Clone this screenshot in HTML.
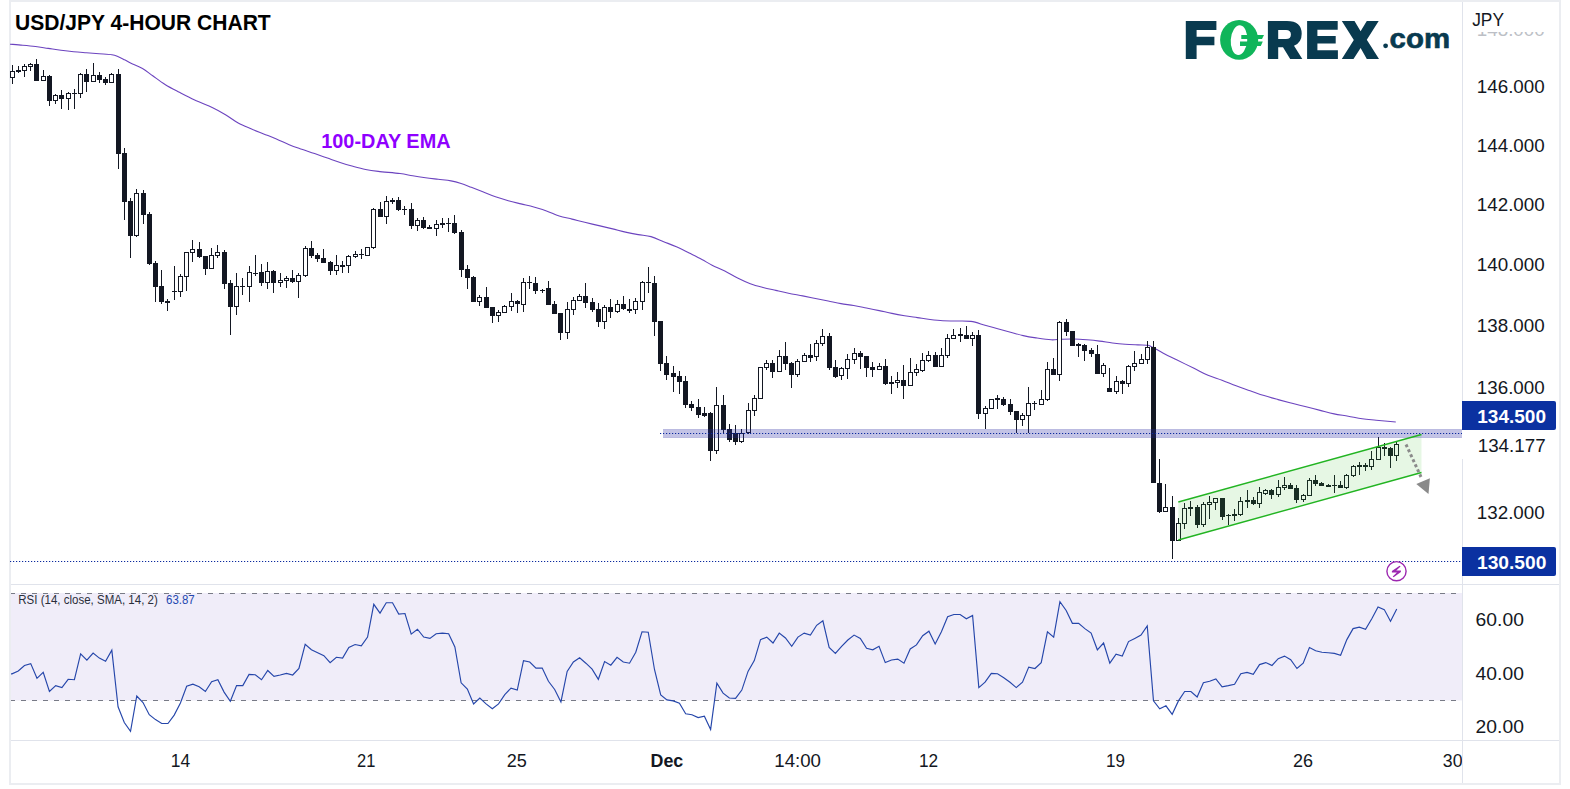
<!DOCTYPE html><html><head><meta charset="utf-8"><style>
html,body{margin:0;padding:0;background:#fff;width:1570px;height:789px;overflow:hidden}
svg{position:absolute;left:0;top:0;display:block}
text{font-family:"Liberation Sans",sans-serif}
</style></head><body>
<svg width="1570" height="789" viewBox="0 0 1570 789">
<rect x="0" y="0" width="1570" height="789" fill="#fff"/>
<defs><clipPath id="cm"><rect x="10" y="2" width="1452" height="582"/></clipPath>
<clipPath id="cr"><rect x="11" y="585" width="1451" height="155"/></clipPath>
<clipPath id="ct"><rect x="11" y="741" width="1451" height="42"/></clipPath>
<clipPath id="cg"><rect x="1463" y="32" width="96" height="20"/></clipPath></defs>
<rect x="10" y="1" width="1550" height="783" fill="none" stroke="#ebedf1" stroke-width="2"/>
<g clip-path="url(#cr)">
<rect x="11" y="593" width="1451" height="107.5" fill="#f0edf9"/>
<line x1="10" y1="593.5" x2="1462" y2="593.5" stroke="#787b86" stroke-width="1" stroke-dasharray="5 6"/>
<line x1="10" y1="700.5" x2="1462" y2="700.5" stroke="#787b86" stroke-width="1" stroke-dasharray="5 6"/>
<polyline points="5.78,673.80 12.02,673.80 18.26,671.00 24.49,665.50 30.73,663.60 36.97,678.30 43.21,672.40 49.44,691.50 55.68,685.60 61.92,687.60 68.16,679.30 74.39,679.70 80.63,653.80 86.87,660.20 93.11,653.00 99.34,658.10 105.58,661.20 111.82,650.20 118.06,706.80 124.29,722.50 130.53,731.40 136.77,696.00 143.01,702.50 149.25,714.70 155.48,719.60 161.72,723.50 167.96,723.50 174.19,715.10 180.43,702.90 186.67,686.20 192.91,684.20 199.15,686.80 205.38,691.50 211.62,681.70 217.86,679.70 224.09,692.10 230.33,701.30 236.57,685.60 242.81,685.60 249.05,674.40 255.28,674.80 261.52,679.70 267.76,670.50 273.99,676.40 280.23,675.00 286.47,673.40 292.71,675.00 298.94,668.50 305.18,644.30 311.42,649.80 317.66,652.80 323.89,655.70 330.13,662.60 336.37,657.30 342.61,658.10 348.84,647.50 355.08,644.50 361.32,645.90 367.56,637.10 373.79,604.30 380.03,613.10 386.27,602.70 392.51,602.70 398.74,614.10 404.98,613.50 411.22,634.10 417.46,629.20 423.69,637.10 429.93,638.40 436.17,633.70 442.41,633.10 448.64,633.70 454.88,646.90 461.12,682.80 467.36,689.10 473.59,703.90 479.83,698.00 486.07,703.90 492.31,708.80 498.54,703.90 504.78,694.60 511.02,688.10 517.26,690.10 523.50,660.60 529.73,662.00 535.97,668.10 542.21,668.10 548.44,681.30 554.68,689.50 560.92,701.90 567.16,671.40 573.39,662.00 579.63,657.70 585.87,663.20 592.11,669.10 598.34,679.30 604.58,661.60 610.82,665.20 617.06,657.30 623.29,662.00 629.53,663.20 635.77,652.20 642.01,631.80 648.25,632.20 654.48,669.50 660.72,695.00 666.96,699.90 673.19,700.90 679.43,703.30 685.67,713.70 691.91,714.70 698.14,717.60 704.38,716.20 710.62,729.40 716.86,683.20 723.09,693.10 729.33,698.00 735.57,698.40 741.81,690.10 748.04,671.40 754.28,660.60 760.52,639.60 766.76,637.10 773.00,643.00 779.23,633.10 785.47,638.00 791.71,646.30 797.94,637.10 804.18,633.10 810.42,635.10 816.66,625.30 822.89,620.80 829.13,647.50 835.37,653.40 841.61,646.30 847.84,640.00 854.08,635.10 860.32,638.40 866.56,648.30 872.79,649.80 879.03,646.30 885.27,662.60 891.51,660.00 897.75,659.10 903.98,663.20 910.22,648.90 916.46,644.90 922.69,635.70 928.93,631.20 935.17,643.90 941.41,631.80 947.64,616.80 953.88,614.50 960.12,614.50 966.36,618.80 972.59,615.50 978.83,687.60 985.07,682.20 991.31,673.40 997.54,673.80 1003.78,677.70 1010.02,682.20 1016.26,687.60 1022.50,682.20 1028.73,667.10 1034.97,668.50 1041.21,662.60 1047.44,631.80 1053.68,637.10 1059.92,601.70 1066.16,610.50 1072.39,623.30 1078.63,623.30 1084.87,628.60 1091.11,633.10 1097.35,649.80 1103.58,643.00 1109.82,663.20 1116.06,654.20 1122.29,656.10 1128.53,641.60 1134.77,638.40 1141.01,635.10 1147.24,625.90 1153.48,700.90 1159.72,708.80 1165.96,705.80 1172.19,714.30 1178.43,700.90 1184.67,691.50 1190.91,691.50 1197.14,697.00 1203.38,682.80 1209.62,681.30 1215.86,678.90 1222.10,686.80 1228.33,685.60 1234.57,684.20 1240.81,673.80 1247.04,672.40 1253.28,674.40 1259.52,664.60 1265.76,662.60 1271.99,665.50 1278.23,658.70 1284.47,656.10 1290.71,659.70 1296.94,668.50 1303.18,663.20 1309.42,647.50 1315.66,650.80 1321.89,652.20 1328.13,652.80 1334.37,653.40 1340.61,655.30 1346.85,639.60 1353.08,628.60 1359.32,627.20 1365.56,629.20 1371.79,618.80 1378.03,607.00 1384.27,609.60 1390.51,621.30 1396.74,609.00" fill="none" stroke="#2546aa" stroke-width="1.15" stroke-linejoin="miter"/>
</g>
<g clip-path="url(#cm)">
<path d="M10,44.2 C12.12,44.37 18.45,44.82 22.7,45.2 C26.95,45.58 31.25,45.97 35.5,46.5 C39.75,47.03 43.95,47.77 48.2,48.4 C52.45,49.03 56.75,49.73 61,50.3 C65.25,50.87 69.47,51.38 73.7,51.8 C77.93,52.22 82.15,52.48 86.4,52.8 C90.65,53.12 94.95,53.38 99.2,53.7 C103.45,54.02 108.72,54.20 111.9,54.7 C115.08,55.20 116.18,55.85 118.3,56.7 C120.42,57.55 122.48,58.70 124.6,59.8 C126.72,60.90 128.02,61.87 131,63.3 C133.98,64.73 138.88,66.32 142.5,68.4 C146.12,70.48 148.88,73.08 152.7,75.8 C156.52,78.52 160.95,81.95 165.4,84.7 C169.85,87.45 174.52,89.75 179.4,92.3 C184.28,94.85 189.15,97.43 194.7,100 C200.25,102.57 207.57,105.25 212.7,107.7 C217.83,110.15 221.25,112.15 225.5,114.7 C229.75,117.25 233.95,120.65 238.2,123 C242.45,125.35 246.75,126.98 251,128.8 C255.25,130.62 259.47,132.20 263.7,133.9 C267.93,135.60 272.15,137.20 276.4,139 C280.65,140.80 285.37,143.12 289.2,144.7 C293.03,146.28 295.17,147.02 299.4,148.5 C303.63,149.98 309.93,152.00 314.6,153.6 C319.27,155.20 323.15,156.62 327.4,158.1 C331.65,159.58 335.85,161.13 340.1,162.5 C344.35,163.87 348.65,165.13 352.9,166.3 C357.15,167.47 361.37,168.65 365.6,169.5 C369.83,170.35 372.57,170.73 378.3,171.4 C384.03,172.07 394.27,172.77 400,173.5 C405.73,174.23 408.45,175.10 412.7,175.8 C416.95,176.50 421.25,177.12 425.5,177.7 C429.75,178.28 433.95,178.77 438.2,179.3 C442.45,179.83 447.18,180.20 451,180.9 C454.82,181.60 457.72,182.43 461.1,183.5 C464.48,184.57 467.68,185.92 471.3,187.3 C474.92,188.68 478.77,190.22 482.8,191.8 C486.83,193.38 491.25,195.32 495.5,196.8 C499.75,198.28 504.05,199.52 508.3,200.7 C512.55,201.88 516.75,202.85 521,203.9 C525.25,204.95 529.55,205.83 533.8,207 C538.05,208.17 542.27,209.40 546.5,210.9 C550.73,212.40 554.95,214.63 559.2,216 C563.45,217.37 567.75,218.05 572,219.1 C576.25,220.15 580.03,221.17 584.7,222.3 C589.37,223.43 595.33,224.80 600,225.9 C604.67,227.00 608.45,227.87 612.7,228.9 C616.95,229.93 621.25,231.15 625.5,232.1 C629.75,233.05 633.95,233.85 638.2,234.6 C642.45,235.35 646.75,235.42 651,236.6 C655.25,237.78 659.47,240.00 663.7,241.7 C667.93,243.40 672.15,244.90 676.4,246.8 C680.65,248.70 684.95,250.98 689.2,253.1 C693.45,255.22 698.08,257.48 701.9,259.5 C705.72,261.52 708.28,263.28 712.1,265.2 C715.92,267.12 720.55,268.87 724.8,271 C729.05,273.13 733.35,275.88 737.6,278 C741.85,280.12 746.05,282.12 750.3,283.7 C754.55,285.28 758.85,286.38 763.1,287.5 C767.35,288.62 771.57,289.45 775.8,290.4 C780.03,291.35 784.02,292.28 788.5,293.2 C792.98,294.12 798.20,295.02 802.7,295.9 C807.20,296.78 811.25,297.65 815.5,298.5 C819.75,299.35 823.95,300.15 828.2,301 C832.45,301.85 836.75,302.85 841,303.6 C845.25,304.35 849.47,304.77 853.7,305.5 C857.93,306.23 862.15,307.15 866.4,308 C870.65,308.85 874.95,309.70 879.2,310.6 C883.45,311.50 887.67,312.55 891.9,313.4 C896.13,314.25 900.35,315.00 904.6,315.7 C908.85,316.40 913.15,316.97 917.4,317.6 C921.65,318.23 925.85,318.97 930.1,319.5 C934.35,320.03 938.65,320.55 942.9,320.8 C947.15,321.05 950.93,320.90 955.6,321 C960.27,321.10 966.00,320.70 970.9,321.4 C975.80,322.10 980.53,323.97 985,325.2 C989.47,326.43 993.45,327.63 997.7,328.8 C1001.95,329.97 1006.25,331.07 1010.5,332.2 C1014.75,333.33 1018.95,334.65 1023.2,335.6 C1027.45,336.55 1031.33,337.20 1036,337.9 C1040.67,338.60 1046.97,339.58 1051.2,339.8 C1055.43,340.02 1057.57,339.33 1061.4,339.2 C1065.23,339.07 1069.95,338.90 1074.2,339 C1078.45,339.10 1082.67,339.45 1086.9,339.8 C1091.13,340.15 1095.35,340.57 1099.6,341.1 C1103.85,341.63 1108.15,342.47 1112.4,343 C1116.65,343.53 1120.85,343.98 1125.1,344.3 C1129.35,344.62 1134.28,344.75 1137.9,344.9 C1141.52,345.05 1144.68,344.98 1146.8,345.2 C1148.92,345.42 1147.85,344.87 1150.6,346.2 C1153.35,347.53 1159.05,350.97 1163.3,353.2 C1167.55,355.43 1170.98,357.08 1176.1,359.6 C1181.22,362.12 1188.68,365.68 1194,368.3 C1199.32,370.92 1203.33,373.32 1208,375.3 C1212.67,377.28 1217.32,378.45 1222,380.2 C1226.68,381.95 1231.42,384.05 1236.1,385.8 C1240.78,387.55 1245.43,389.07 1250.1,390.7 C1254.77,392.33 1259.43,394.12 1264.1,395.6 C1268.77,397.08 1273.43,398.32 1278.1,399.6 C1282.77,400.88 1287.43,402.10 1292.1,403.3 C1296.77,404.50 1301.43,405.62 1306.1,406.8 C1310.77,407.98 1315.43,409.22 1320.1,410.4 C1324.77,411.58 1329.42,412.93 1334.1,413.9 C1338.78,414.87 1343.52,415.38 1348.2,416.2 C1352.88,417.02 1357.53,418.13 1362.2,418.8 C1366.87,419.47 1370.60,419.67 1376.2,420.2 C1381.80,420.73 1392.53,421.70 1395.8,422" fill="none" stroke="#6c44bf" stroke-width="1.1"/>
<rect x="12" y="65" width="1" height="19" fill="#131722"/><rect x="10" y="71" width="5" height="7" fill="#131722"/><rect x="11" y="72" width="3" height="5" fill="#fff"/><rect x="18" y="66" width="1" height="7" fill="#131722"/><rect x="16" y="70" width="5" height="2" fill="#131722"/><rect x="24" y="64" width="1" height="13" fill="#131722"/><rect x="22" y="66" width="5" height="5" fill="#131722"/><rect x="23" y="67" width="3" height="3" fill="#fff"/><rect x="30" y="63" width="1" height="8" fill="#131722"/><rect x="28" y="64" width="5" height="3" fill="#131722"/><rect x="29" y="65" width="3" height="1" fill="#fff"/><rect x="36" y="59" width="1" height="22" fill="#131722"/><rect x="34" y="64" width="5" height="17" fill="#131722"/><rect x="43" y="70" width="1" height="11" fill="#131722"/><rect x="41" y="76" width="5" height="5" fill="#131722"/><rect x="42" y="77" width="3" height="3" fill="#fff"/><rect x="49" y="75" width="1" height="31" fill="#131722"/><rect x="47" y="76" width="5" height="25" fill="#131722"/><rect x="55" y="94" width="1" height="10" fill="#131722"/><rect x="53" y="95" width="5" height="6" fill="#131722"/><rect x="54" y="96" width="3" height="4" fill="#fff"/><rect x="61" y="90" width="1" height="19" fill="#131722"/><rect x="59" y="95" width="5" height="4" fill="#131722"/><rect x="68" y="92" width="1" height="18" fill="#131722"/><rect x="66" y="93" width="5" height="6" fill="#131722"/><rect x="67" y="94" width="3" height="4" fill="#fff"/><rect x="74" y="89" width="1" height="20" fill="#131722"/><rect x="72" y="93" width="5" height="1" fill="#131722"/><rect x="80" y="73" width="1" height="25" fill="#131722"/><rect x="78" y="74" width="5" height="20" fill="#131722"/><rect x="79" y="75" width="3" height="18" fill="#fff"/><rect x="86" y="69" width="1" height="23" fill="#131722"/><rect x="84" y="74" width="5" height="8" fill="#131722"/><rect x="93" y="63" width="1" height="19" fill="#131722"/><rect x="91" y="75" width="5" height="7" fill="#131722"/><rect x="92" y="76" width="3" height="5" fill="#fff"/><rect x="99" y="72" width="1" height="11" fill="#131722"/><rect x="97" y="75" width="5" height="5" fill="#131722"/><rect x="105" y="77" width="1" height="8" fill="#131722"/><rect x="103" y="79" width="5" height="4" fill="#131722"/><rect x="111" y="73" width="1" height="10" fill="#131722"/><rect x="109" y="74" width="5" height="9" fill="#131722"/><rect x="110" y="75" width="3" height="7" fill="#fff"/><rect x="118" y="69" width="1" height="100" fill="#131722"/><rect x="116" y="74" width="5" height="80" fill="#131722"/><rect x="124" y="148" width="1" height="72" fill="#131722"/><rect x="122" y="153" width="5" height="49" fill="#131722"/><rect x="130" y="198" width="1" height="60" fill="#131722"/><rect x="128" y="201" width="5" height="35" fill="#131722"/><rect x="136" y="189" width="1" height="48" fill="#131722"/><rect x="134" y="193" width="5" height="43" fill="#131722"/><rect x="135" y="194" width="3" height="41" fill="#fff"/><rect x="143" y="190" width="1" height="34" fill="#131722"/><rect x="141" y="193" width="5" height="22" fill="#131722"/><rect x="149" y="212" width="1" height="53" fill="#131722"/><rect x="147" y="214" width="5" height="50" fill="#131722"/><rect x="155" y="261" width="1" height="41" fill="#131722"/><rect x="153" y="263" width="5" height="24" fill="#131722"/><rect x="161" y="270" width="1" height="34" fill="#131722"/><rect x="159" y="286" width="5" height="16" fill="#131722"/><rect x="167" y="299" width="1" height="12" fill="#131722"/><rect x="165" y="301" width="5" height="2" fill="#131722"/><rect x="174" y="266" width="1" height="34" fill="#131722"/><rect x="172" y="291" width="5" height="1" fill="#131722"/><rect x="180" y="274" width="1" height="23" fill="#131722"/><rect x="178" y="276" width="5" height="16" fill="#131722"/><rect x="179" y="277" width="3" height="14" fill="#fff"/><rect x="186" y="252" width="1" height="39" fill="#131722"/><rect x="184" y="252" width="5" height="25" fill="#131722"/><rect x="185" y="253" width="3" height="23" fill="#fff"/><rect x="192" y="240" width="1" height="22" fill="#131722"/><rect x="190" y="249" width="5" height="4" fill="#131722"/><rect x="191" y="250" width="3" height="2" fill="#fff"/><rect x="199" y="242" width="1" height="16" fill="#131722"/><rect x="197" y="249" width="5" height="8" fill="#131722"/><rect x="205" y="256" width="1" height="19" fill="#131722"/><rect x="203" y="256" width="5" height="13" fill="#131722"/><rect x="211" y="248" width="1" height="21" fill="#131722"/><rect x="209" y="255" width="5" height="14" fill="#131722"/><rect x="210" y="256" width="3" height="12" fill="#fff"/><rect x="217" y="245" width="1" height="13" fill="#131722"/><rect x="215" y="252" width="5" height="4" fill="#131722"/><rect x="216" y="253" width="3" height="2" fill="#fff"/><rect x="224" y="250" width="1" height="39" fill="#131722"/><rect x="222" y="252" width="5" height="32" fill="#131722"/><rect x="230" y="280" width="1" height="55" fill="#131722"/><rect x="228" y="283" width="5" height="24" fill="#131722"/><rect x="236" y="273" width="1" height="42" fill="#131722"/><rect x="234" y="286" width="5" height="21" fill="#131722"/><rect x="235" y="287" width="3" height="19" fill="#fff"/><rect x="242" y="278" width="1" height="17" fill="#131722"/><rect x="240" y="286" width="5" height="1" fill="#131722"/><rect x="249" y="266" width="1" height="36" fill="#131722"/><rect x="247" y="272" width="5" height="15" fill="#131722"/><rect x="248" y="273" width="3" height="13" fill="#fff"/><rect x="255" y="255" width="1" height="21" fill="#131722"/><rect x="253" y="273" width="5" height="1" fill="#131722"/><rect x="261" y="264" width="1" height="22" fill="#131722"/><rect x="259" y="272" width="5" height="11" fill="#131722"/><rect x="267" y="262" width="1" height="27" fill="#131722"/><rect x="265" y="271" width="5" height="12" fill="#131722"/><rect x="266" y="272" width="3" height="10" fill="#fff"/><rect x="273" y="270" width="1" height="23" fill="#131722"/><rect x="271" y="271" width="5" height="12" fill="#131722"/><rect x="280" y="273" width="1" height="14" fill="#131722"/><rect x="278" y="280" width="5" height="3" fill="#131722"/><rect x="279" y="281" width="3" height="1" fill="#fff"/><rect x="286" y="276" width="1" height="12" fill="#131722"/><rect x="284" y="278" width="5" height="3" fill="#131722"/><rect x="285" y="279" width="3" height="1" fill="#fff"/><rect x="292" y="270" width="1" height="13" fill="#131722"/><rect x="290" y="278" width="5" height="4" fill="#131722"/><rect x="298" y="273" width="1" height="25" fill="#131722"/><rect x="296" y="275" width="5" height="7" fill="#131722"/><rect x="297" y="276" width="3" height="5" fill="#fff"/><rect x="305" y="246" width="1" height="31" fill="#131722"/><rect x="303" y="248" width="5" height="28" fill="#131722"/><rect x="304" y="249" width="3" height="26" fill="#fff"/><rect x="311" y="241" width="1" height="17" fill="#131722"/><rect x="309" y="248" width="5" height="8" fill="#131722"/><rect x="317" y="253" width="1" height="9" fill="#131722"/><rect x="315" y="255" width="5" height="4" fill="#131722"/><rect x="323" y="249" width="1" height="14" fill="#131722"/><rect x="321" y="258" width="5" height="5" fill="#131722"/><rect x="330" y="261" width="1" height="14" fill="#131722"/><rect x="328" y="262" width="5" height="9" fill="#131722"/><rect x="336" y="255" width="1" height="20" fill="#131722"/><rect x="334" y="265" width="5" height="6" fill="#131722"/><rect x="335" y="266" width="3" height="4" fill="#fff"/><rect x="342" y="261" width="1" height="12" fill="#131722"/><rect x="340" y="265" width="5" height="2" fill="#131722"/><rect x="348" y="255" width="1" height="18" fill="#131722"/><rect x="346" y="256" width="5" height="10" fill="#131722"/><rect x="347" y="257" width="3" height="8" fill="#fff"/><rect x="355" y="251" width="1" height="7" fill="#131722"/><rect x="353" y="254" width="5" height="3" fill="#131722"/><rect x="354" y="255" width="3" height="1" fill="#fff"/><rect x="361" y="249" width="1" height="10" fill="#131722"/><rect x="359" y="254" width="5" height="1" fill="#131722"/><rect x="367" y="247" width="1" height="9" fill="#131722"/><rect x="365" y="247" width="5" height="9" fill="#131722"/><rect x="366" y="248" width="3" height="7" fill="#fff"/><rect x="373" y="208" width="1" height="41" fill="#131722"/><rect x="371" y="209" width="5" height="39" fill="#131722"/><rect x="372" y="210" width="3" height="37" fill="#fff"/><rect x="380" y="202" width="1" height="15" fill="#131722"/><rect x="378" y="209" width="5" height="8" fill="#131722"/><rect x="386" y="196" width="1" height="28" fill="#131722"/><rect x="384" y="201" width="5" height="16" fill="#131722"/><rect x="385" y="202" width="3" height="14" fill="#fff"/><rect x="392" y="198" width="1" height="6" fill="#131722"/><rect x="390" y="200" width="5" height="2" fill="#131722"/><rect x="398" y="197" width="1" height="14" fill="#131722"/><rect x="396" y="200" width="5" height="10" fill="#131722"/><rect x="404" y="206" width="1" height="9" fill="#131722"/><rect x="402" y="209" width="5" height="1" fill="#131722"/><rect x="411" y="203" width="1" height="26" fill="#131722"/><rect x="409" y="209" width="5" height="17" fill="#131722"/><rect x="417" y="218" width="1" height="13" fill="#131722"/><rect x="415" y="220" width="5" height="6" fill="#131722"/><rect x="416" y="221" width="3" height="4" fill="#fff"/><rect x="423" y="217" width="1" height="12" fill="#131722"/><rect x="421" y="220" width="5" height="8" fill="#131722"/><rect x="429" y="225" width="1" height="4" fill="#131722"/><rect x="427" y="227" width="5" height="2" fill="#131722"/><rect x="436" y="220" width="1" height="16" fill="#131722"/><rect x="434" y="224" width="5" height="5" fill="#131722"/><rect x="435" y="225" width="3" height="3" fill="#fff"/><rect x="442" y="218" width="1" height="10" fill="#131722"/><rect x="440" y="223" width="5" height="2" fill="#131722"/><rect x="448" y="218" width="1" height="14" fill="#131722"/><rect x="446" y="223" width="5" height="1" fill="#131722"/><rect x="454" y="215" width="1" height="19" fill="#131722"/><rect x="452" y="223" width="5" height="10" fill="#131722"/><rect x="461" y="230" width="1" height="47" fill="#131722"/><rect x="459" y="232" width="5" height="38" fill="#131722"/><rect x="467" y="265" width="1" height="24" fill="#131722"/><rect x="465" y="269" width="5" height="9" fill="#131722"/><rect x="473" y="276" width="1" height="26" fill="#131722"/><rect x="471" y="277" width="5" height="25" fill="#131722"/><rect x="479" y="295" width="1" height="11" fill="#131722"/><rect x="477" y="297" width="5" height="5" fill="#131722"/><rect x="478" y="298" width="3" height="3" fill="#fff"/><rect x="486" y="287" width="1" height="21" fill="#131722"/><rect x="484" y="297" width="5" height="11" fill="#131722"/><rect x="492" y="307" width="1" height="16" fill="#131722"/><rect x="490" y="307" width="5" height="9" fill="#131722"/><rect x="498" y="310" width="1" height="12" fill="#131722"/><rect x="496" y="312" width="5" height="4" fill="#131722"/><rect x="497" y="313" width="3" height="2" fill="#fff"/><rect x="504" y="305" width="1" height="8" fill="#131722"/><rect x="502" y="306" width="5" height="7" fill="#131722"/><rect x="503" y="307" width="3" height="5" fill="#fff"/><rect x="511" y="293" width="1" height="18" fill="#131722"/><rect x="509" y="301" width="5" height="6" fill="#131722"/><rect x="510" y="302" width="3" height="4" fill="#fff"/><rect x="517" y="300" width="1" height="13" fill="#131722"/><rect x="515" y="301" width="5" height="3" fill="#131722"/><rect x="523" y="278" width="1" height="34" fill="#131722"/><rect x="521" y="282" width="5" height="23" fill="#131722"/><rect x="522" y="283" width="3" height="21" fill="#fff"/><rect x="529" y="276" width="1" height="13" fill="#131722"/><rect x="527" y="282" width="5" height="1" fill="#131722"/><rect x="535" y="277" width="1" height="17" fill="#131722"/><rect x="533" y="283" width="5" height="8" fill="#131722"/><rect x="542" y="289" width="1" height="4" fill="#131722"/><rect x="540" y="290" width="5" height="1" fill="#131722"/><rect x="548" y="281" width="1" height="24" fill="#131722"/><rect x="546" y="288" width="5" height="17" fill="#131722"/><rect x="554" y="301" width="1" height="13" fill="#131722"/><rect x="552" y="304" width="5" height="10" fill="#131722"/><rect x="560" y="313" width="1" height="27" fill="#131722"/><rect x="558" y="313" width="5" height="20" fill="#131722"/><rect x="567" y="302" width="1" height="37" fill="#131722"/><rect x="565" y="309" width="5" height="24" fill="#131722"/><rect x="566" y="310" width="3" height="22" fill="#fff"/><rect x="573" y="297" width="1" height="18" fill="#131722"/><rect x="571" y="300" width="5" height="10" fill="#131722"/><rect x="572" y="301" width="3" height="8" fill="#fff"/><rect x="579" y="294" width="1" height="7" fill="#131722"/><rect x="577" y="296" width="5" height="5" fill="#131722"/><rect x="578" y="297" width="3" height="3" fill="#fff"/><rect x="585" y="283" width="1" height="25" fill="#131722"/><rect x="583" y="296" width="5" height="7" fill="#131722"/><rect x="592" y="298" width="1" height="14" fill="#131722"/><rect x="590" y="302" width="5" height="8" fill="#131722"/><rect x="598" y="303" width="1" height="24" fill="#131722"/><rect x="596" y="309" width="5" height="13" fill="#131722"/><rect x="604" y="305" width="1" height="24" fill="#131722"/><rect x="602" y="307" width="5" height="15" fill="#131722"/><rect x="603" y="308" width="3" height="13" fill="#fff"/><rect x="610" y="299" width="1" height="19" fill="#131722"/><rect x="608" y="307" width="5" height="5" fill="#131722"/><rect x="617" y="300" width="1" height="13" fill="#131722"/><rect x="615" y="304" width="5" height="8" fill="#131722"/><rect x="616" y="305" width="3" height="6" fill="#fff"/><rect x="623" y="296" width="1" height="14" fill="#131722"/><rect x="621" y="304" width="5" height="5" fill="#131722"/><rect x="629" y="299" width="1" height="14" fill="#131722"/><rect x="627" y="309" width="5" height="2" fill="#131722"/><rect x="635" y="298" width="1" height="16" fill="#131722"/><rect x="633" y="301" width="5" height="9" fill="#131722"/><rect x="634" y="302" width="3" height="7" fill="#fff"/><rect x="642" y="281" width="1" height="29" fill="#131722"/><rect x="640" y="282" width="5" height="20" fill="#131722"/><rect x="641" y="283" width="3" height="18" fill="#fff"/><rect x="648" y="267" width="1" height="26" fill="#131722"/><rect x="646" y="282" width="5" height="1" fill="#131722"/><rect x="654" y="276" width="1" height="60" fill="#131722"/><rect x="652" y="283" width="5" height="39" fill="#131722"/><rect x="660" y="321" width="1" height="50" fill="#131722"/><rect x="658" y="321" width="5" height="43" fill="#131722"/><rect x="666" y="356" width="1" height="24" fill="#131722"/><rect x="664" y="363" width="5" height="12" fill="#131722"/><rect x="673" y="366" width="1" height="26" fill="#131722"/><rect x="671" y="373" width="5" height="4" fill="#131722"/><rect x="679" y="371" width="1" height="23" fill="#131722"/><rect x="677" y="376" width="5" height="6" fill="#131722"/><rect x="685" y="376" width="1" height="32" fill="#131722"/><rect x="683" y="381" width="5" height="24" fill="#131722"/><rect x="691" y="401" width="1" height="10" fill="#131722"/><rect x="689" y="404" width="5" height="4" fill="#131722"/><rect x="698" y="399" width="1" height="19" fill="#131722"/><rect x="696" y="407" width="5" height="8" fill="#131722"/><rect x="704" y="407" width="1" height="10" fill="#131722"/><rect x="702" y="413" width="5" height="3" fill="#131722"/><rect x="710" y="412" width="1" height="49" fill="#131722"/><rect x="708" y="413" width="5" height="38" fill="#131722"/><rect x="716" y="387" width="1" height="67" fill="#131722"/><rect x="714" y="405" width="5" height="46" fill="#131722"/><rect x="715" y="406" width="3" height="44" fill="#fff"/><rect x="723" y="395" width="1" height="39" fill="#131722"/><rect x="721" y="405" width="5" height="25" fill="#131722"/><rect x="729" y="424" width="1" height="18" fill="#131722"/><rect x="727" y="429" width="5" height="11" fill="#131722"/><rect x="735" y="425" width="1" height="20" fill="#131722"/><rect x="733" y="433" width="5" height="9" fill="#131722"/><rect x="741" y="429" width="1" height="14" fill="#131722"/><rect x="739" y="433" width="5" height="9" fill="#131722"/><rect x="740" y="434" width="3" height="7" fill="#fff"/><rect x="748" y="403" width="1" height="31" fill="#131722"/><rect x="746" y="410" width="5" height="23" fill="#131722"/><rect x="747" y="411" width="3" height="21" fill="#fff"/><rect x="754" y="395" width="1" height="21" fill="#131722"/><rect x="752" y="398" width="5" height="13" fill="#131722"/><rect x="753" y="399" width="3" height="11" fill="#fff"/><rect x="760" y="367" width="1" height="32" fill="#131722"/><rect x="758" y="367" width="5" height="32" fill="#131722"/><rect x="759" y="368" width="3" height="30" fill="#fff"/><rect x="766" y="360" width="1" height="10" fill="#131722"/><rect x="764" y="363" width="5" height="5" fill="#131722"/><rect x="765" y="364" width="3" height="3" fill="#fff"/><rect x="772" y="360" width="1" height="18" fill="#131722"/><rect x="770" y="363" width="5" height="9" fill="#131722"/><rect x="779" y="350" width="1" height="22" fill="#131722"/><rect x="777" y="356" width="5" height="16" fill="#131722"/><rect x="778" y="357" width="3" height="14" fill="#fff"/><rect x="785" y="342" width="1" height="28" fill="#131722"/><rect x="783" y="356" width="5" height="8" fill="#131722"/><rect x="791" y="362" width="1" height="26" fill="#131722"/><rect x="789" y="363" width="5" height="12" fill="#131722"/><rect x="797" y="359" width="1" height="18" fill="#131722"/><rect x="795" y="361" width="5" height="14" fill="#131722"/><rect x="796" y="362" width="3" height="12" fill="#fff"/><rect x="804" y="353" width="1" height="9" fill="#131722"/><rect x="802" y="355" width="5" height="7" fill="#131722"/><rect x="803" y="356" width="3" height="5" fill="#fff"/><rect x="810" y="344" width="1" height="18" fill="#131722"/><rect x="808" y="355" width="5" height="3" fill="#131722"/><rect x="816" y="340" width="1" height="21" fill="#131722"/><rect x="814" y="343" width="5" height="14" fill="#131722"/><rect x="815" y="344" width="3" height="12" fill="#fff"/><rect x="822" y="329" width="1" height="17" fill="#131722"/><rect x="820" y="336" width="5" height="8" fill="#131722"/><rect x="821" y="337" width="3" height="6" fill="#fff"/><rect x="829" y="333" width="1" height="37" fill="#131722"/><rect x="827" y="336" width="5" height="32" fill="#131722"/><rect x="835" y="360" width="1" height="18" fill="#131722"/><rect x="833" y="367" width="5" height="10" fill="#131722"/><rect x="841" y="367" width="1" height="13" fill="#131722"/><rect x="839" y="368" width="5" height="8" fill="#131722"/><rect x="840" y="369" width="3" height="6" fill="#fff"/><rect x="847" y="354" width="1" height="25" fill="#131722"/><rect x="845" y="359" width="5" height="10" fill="#131722"/><rect x="846" y="360" width="3" height="8" fill="#fff"/><rect x="854" y="348" width="1" height="16" fill="#131722"/><rect x="852" y="353" width="5" height="7" fill="#131722"/><rect x="853" y="354" width="3" height="5" fill="#fff"/><rect x="860" y="351" width="1" height="18" fill="#131722"/><rect x="858" y="353" width="5" height="4" fill="#131722"/><rect x="866" y="356" width="1" height="21" fill="#131722"/><rect x="864" y="356" width="5" height="12" fill="#131722"/><rect x="872" y="362" width="1" height="15" fill="#131722"/><rect x="870" y="367" width="5" height="3" fill="#131722"/><rect x="879" y="363" width="1" height="7" fill="#131722"/><rect x="877" y="366" width="5" height="4" fill="#131722"/><rect x="878" y="367" width="3" height="2" fill="#fff"/><rect x="885" y="359" width="1" height="26" fill="#131722"/><rect x="883" y="366" width="5" height="18" fill="#131722"/><rect x="891" y="376" width="1" height="18" fill="#131722"/><rect x="889" y="382" width="5" height="2" fill="#131722"/><rect x="897" y="372" width="1" height="16" fill="#131722"/><rect x="895" y="380" width="5" height="3" fill="#131722"/><rect x="896" y="381" width="3" height="1" fill="#fff"/><rect x="903" y="365" width="1" height="34" fill="#131722"/><rect x="901" y="380" width="5" height="6" fill="#131722"/><rect x="910" y="358" width="1" height="28" fill="#131722"/><rect x="908" y="372" width="5" height="14" fill="#131722"/><rect x="909" y="373" width="3" height="12" fill="#fff"/><rect x="916" y="364" width="1" height="12" fill="#131722"/><rect x="914" y="369" width="5" height="4" fill="#131722"/><rect x="915" y="370" width="3" height="2" fill="#fff"/><rect x="922" y="353" width="1" height="19" fill="#131722"/><rect x="920" y="360" width="5" height="11" fill="#131722"/><rect x="921" y="361" width="3" height="9" fill="#fff"/><rect x="928" y="351" width="1" height="11" fill="#131722"/><rect x="926" y="355" width="5" height="6" fill="#131722"/><rect x="927" y="356" width="3" height="4" fill="#fff"/><rect x="935" y="352" width="1" height="15" fill="#131722"/><rect x="933" y="355" width="5" height="12" fill="#131722"/><rect x="941" y="348" width="1" height="19" fill="#131722"/><rect x="939" y="355" width="5" height="12" fill="#131722"/><rect x="940" y="356" width="3" height="10" fill="#fff"/><rect x="947" y="334" width="1" height="24" fill="#131722"/><rect x="945" y="338" width="5" height="18" fill="#131722"/><rect x="946" y="339" width="3" height="16" fill="#fff"/><rect x="953" y="329" width="1" height="10" fill="#131722"/><rect x="951" y="335" width="5" height="4" fill="#131722"/><rect x="952" y="336" width="3" height="2" fill="#fff"/><rect x="960" y="328" width="1" height="14" fill="#131722"/><rect x="958" y="334" width="5" height="2" fill="#131722"/><rect x="966" y="326" width="1" height="13" fill="#131722"/><rect x="964" y="335" width="5" height="4" fill="#131722"/><rect x="972" y="332" width="1" height="14" fill="#131722"/><rect x="970" y="335" width="5" height="4" fill="#131722"/><rect x="971" y="336" width="3" height="2" fill="#fff"/><rect x="978" y="330" width="1" height="89" fill="#131722"/><rect x="976" y="335" width="5" height="79" fill="#131722"/><rect x="985" y="406" width="1" height="23" fill="#131722"/><rect x="983" y="408" width="5" height="6" fill="#131722"/><rect x="984" y="409" width="3" height="4" fill="#fff"/><rect x="991" y="399" width="1" height="10" fill="#131722"/><rect x="989" y="399" width="5" height="10" fill="#131722"/><rect x="990" y="400" width="3" height="8" fill="#fff"/><rect x="997" y="395" width="1" height="14" fill="#131722"/><rect x="995" y="398" width="5" height="2" fill="#131722"/><rect x="1003" y="397" width="1" height="9" fill="#131722"/><rect x="1001" y="399" width="5" height="6" fill="#131722"/><rect x="1010" y="399" width="1" height="16" fill="#131722"/><rect x="1008" y="404" width="5" height="8" fill="#131722"/><rect x="1016" y="411" width="1" height="22" fill="#131722"/><rect x="1014" y="411" width="5" height="9" fill="#131722"/><rect x="1022" y="413" width="1" height="13" fill="#131722"/><rect x="1020" y="415" width="5" height="5" fill="#131722"/><rect x="1021" y="416" width="3" height="3" fill="#fff"/><rect x="1028" y="387" width="1" height="46" fill="#131722"/><rect x="1026" y="403" width="5" height="13" fill="#131722"/><rect x="1027" y="404" width="3" height="11" fill="#fff"/><rect x="1034" y="401" width="1" height="9" fill="#131722"/><rect x="1032" y="403" width="5" height="1" fill="#131722"/><rect x="1041" y="390" width="1" height="15" fill="#131722"/><rect x="1039" y="399" width="5" height="6" fill="#131722"/><rect x="1040" y="400" width="3" height="4" fill="#fff"/><rect x="1047" y="362" width="1" height="39" fill="#131722"/><rect x="1045" y="369" width="5" height="31" fill="#131722"/><rect x="1046" y="370" width="3" height="29" fill="#fff"/><rect x="1053" y="358" width="1" height="17" fill="#131722"/><rect x="1051" y="369" width="5" height="6" fill="#131722"/><rect x="1059" y="321" width="1" height="60" fill="#131722"/><rect x="1057" y="322" width="5" height="53" fill="#131722"/><rect x="1058" y="323" width="3" height="51" fill="#fff"/><rect x="1066" y="319" width="1" height="17" fill="#131722"/><rect x="1064" y="322" width="5" height="10" fill="#131722"/><rect x="1072" y="331" width="1" height="15" fill="#131722"/><rect x="1070" y="331" width="5" height="15" fill="#131722"/><rect x="1078" y="343" width="1" height="14" fill="#131722"/><rect x="1076" y="344" width="5" height="2" fill="#131722"/><rect x="1084" y="344" width="1" height="17" fill="#131722"/><rect x="1082" y="345" width="5" height="6" fill="#131722"/><rect x="1091" y="348" width="1" height="9" fill="#131722"/><rect x="1089" y="350" width="5" height="4" fill="#131722"/><rect x="1097" y="345" width="1" height="29" fill="#131722"/><rect x="1095" y="354" width="5" height="20" fill="#131722"/><rect x="1103" y="363" width="1" height="14" fill="#131722"/><rect x="1101" y="365" width="5" height="9" fill="#131722"/><rect x="1102" y="366" width="3" height="7" fill="#fff"/><rect x="1109" y="368" width="1" height="24" fill="#131722"/><rect x="1107" y="388" width="5" height="4" fill="#131722"/><rect x="1116" y="376" width="1" height="18" fill="#131722"/><rect x="1114" y="381" width="5" height="11" fill="#131722"/><rect x="1115" y="382" width="3" height="9" fill="#fff"/><rect x="1122" y="380" width="1" height="14" fill="#131722"/><rect x="1120" y="381" width="5" height="3" fill="#131722"/><rect x="1128" y="365" width="1" height="22" fill="#131722"/><rect x="1126" y="366" width="5" height="18" fill="#131722"/><rect x="1127" y="367" width="3" height="16" fill="#fff"/><rect x="1134" y="351" width="1" height="20" fill="#131722"/><rect x="1132" y="363" width="5" height="4" fill="#131722"/><rect x="1133" y="364" width="3" height="2" fill="#fff"/><rect x="1141" y="354" width="1" height="10" fill="#131722"/><rect x="1139" y="359" width="5" height="5" fill="#131722"/><rect x="1140" y="360" width="3" height="3" fill="#fff"/><rect x="1147" y="341" width="1" height="23" fill="#131722"/><rect x="1145" y="347" width="5" height="13" fill="#131722"/><rect x="1146" y="348" width="3" height="11" fill="#fff"/><rect x="1153" y="341" width="1" height="142" fill="#131722"/><rect x="1151" y="347" width="5" height="136" fill="#131722"/><rect x="1159" y="459" width="1" height="54" fill="#131722"/><rect x="1157" y="483" width="5" height="29" fill="#131722"/><rect x="1165" y="484" width="1" height="28" fill="#131722"/><rect x="1163" y="507" width="5" height="5" fill="#131722"/><rect x="1164" y="508" width="3" height="3" fill="#fff"/><rect x="1172" y="496" width="1" height="63" fill="#131722"/><rect x="1170" y="507" width="5" height="34" fill="#131722"/><rect x="1178" y="518" width="1" height="23" fill="#131722"/><rect x="1176" y="523" width="5" height="18" fill="#131722"/><rect x="1177" y="524" width="3" height="16" fill="#fff"/><rect x="1184" y="503" width="1" height="26" fill="#131722"/><rect x="1182" y="508" width="5" height="16" fill="#131722"/><rect x="1183" y="509" width="3" height="14" fill="#fff"/><rect x="1190" y="501" width="1" height="15" fill="#131722"/><rect x="1188" y="507" width="5" height="2" fill="#131722"/><rect x="1197" y="505" width="1" height="23" fill="#131722"/><rect x="1195" y="507" width="5" height="18" fill="#131722"/><rect x="1203" y="502" width="1" height="25" fill="#131722"/><rect x="1201" y="504" width="5" height="21" fill="#131722"/><rect x="1202" y="505" width="3" height="19" fill="#fff"/><rect x="1209" y="496" width="1" height="23" fill="#131722"/><rect x="1207" y="502" width="5" height="3" fill="#131722"/><rect x="1208" y="503" width="3" height="1" fill="#fff"/><rect x="1215" y="498" width="1" height="12" fill="#131722"/><rect x="1213" y="498" width="5" height="5" fill="#131722"/><rect x="1214" y="499" width="3" height="3" fill="#fff"/><rect x="1222" y="498" width="1" height="22" fill="#131722"/><rect x="1220" y="498" width="5" height="19" fill="#131722"/><rect x="1228" y="514" width="1" height="11" fill="#131722"/><rect x="1226" y="515" width="5" height="1" fill="#131722"/><rect x="1234" y="509" width="1" height="12" fill="#131722"/><rect x="1232" y="514" width="5" height="2" fill="#131722"/><rect x="1240" y="497" width="1" height="19" fill="#131722"/><rect x="1238" y="501" width="5" height="14" fill="#131722"/><rect x="1239" y="502" width="3" height="12" fill="#fff"/><rect x="1247" y="490" width="1" height="18" fill="#131722"/><rect x="1245" y="500" width="5" height="2" fill="#131722"/><rect x="1253" y="497" width="1" height="8" fill="#131722"/><rect x="1251" y="500" width="5" height="4" fill="#131722"/><rect x="1259" y="487" width="1" height="21" fill="#131722"/><rect x="1257" y="492" width="5" height="12" fill="#131722"/><rect x="1258" y="493" width="3" height="10" fill="#fff"/><rect x="1265" y="489" width="1" height="6" fill="#131722"/><rect x="1263" y="490" width="5" height="4" fill="#131722"/><rect x="1264" y="491" width="3" height="2" fill="#fff"/><rect x="1271" y="489" width="1" height="10" fill="#131722"/><rect x="1269" y="490" width="5" height="5" fill="#131722"/><rect x="1278" y="480" width="1" height="17" fill="#131722"/><rect x="1276" y="487" width="5" height="8" fill="#131722"/><rect x="1277" y="488" width="3" height="6" fill="#fff"/><rect x="1284" y="477" width="1" height="13" fill="#131722"/><rect x="1282" y="485" width="5" height="3" fill="#131722"/><rect x="1283" y="486" width="3" height="1" fill="#fff"/><rect x="1290" y="483" width="1" height="6" fill="#131722"/><rect x="1288" y="485" width="5" height="4" fill="#131722"/><rect x="1296" y="485" width="1" height="18" fill="#131722"/><rect x="1294" y="488" width="5" height="12" fill="#131722"/><rect x="1303" y="494" width="1" height="8" fill="#131722"/><rect x="1301" y="495" width="5" height="5" fill="#131722"/><rect x="1302" y="496" width="3" height="3" fill="#fff"/><rect x="1309" y="478" width="1" height="18" fill="#131722"/><rect x="1307" y="480" width="5" height="16" fill="#131722"/><rect x="1308" y="481" width="3" height="14" fill="#fff"/><rect x="1315" y="475" width="1" height="11" fill="#131722"/><rect x="1313" y="480" width="5" height="4" fill="#131722"/><rect x="1321" y="482" width="1" height="4" fill="#131722"/><rect x="1319" y="483" width="5" height="3" fill="#131722"/><rect x="1328" y="484" width="1" height="3" fill="#131722"/><rect x="1326" y="485" width="5" height="2" fill="#131722"/><rect x="1334" y="475" width="1" height="18" fill="#131722"/><rect x="1332" y="485" width="5" height="1" fill="#131722"/><rect x="1340" y="481" width="1" height="7" fill="#131722"/><rect x="1338" y="485" width="5" height="3" fill="#131722"/><rect x="1346" y="474" width="1" height="15" fill="#131722"/><rect x="1344" y="475" width="5" height="13" fill="#131722"/><rect x="1345" y="476" width="3" height="11" fill="#fff"/><rect x="1353" y="465" width="1" height="12" fill="#131722"/><rect x="1351" y="466" width="5" height="10" fill="#131722"/><rect x="1352" y="467" width="3" height="8" fill="#fff"/><rect x="1359" y="462" width="1" height="13" fill="#131722"/><rect x="1357" y="465" width="5" height="2" fill="#131722"/><rect x="1365" y="463" width="1" height="8" fill="#131722"/><rect x="1363" y="465" width="5" height="2" fill="#131722"/><rect x="1371" y="451" width="1" height="19" fill="#131722"/><rect x="1369" y="459" width="5" height="8" fill="#131722"/><rect x="1370" y="460" width="3" height="6" fill="#fff"/><rect x="1378" y="437" width="1" height="23" fill="#131722"/><rect x="1376" y="447" width="5" height="13" fill="#131722"/><rect x="1377" y="448" width="3" height="11" fill="#fff"/><rect x="1384" y="443" width="1" height="13" fill="#131722"/><rect x="1382" y="447" width="5" height="2" fill="#131722"/><rect x="1390" y="447" width="1" height="21" fill="#131722"/><rect x="1388" y="448" width="5" height="8" fill="#131722"/><rect x="1396" y="442" width="1" height="19" fill="#131722"/><rect x="1394" y="444" width="5" height="12" fill="#131722"/><rect x="1395" y="445" width="3" height="10" fill="#fff"/>
<rect x="663" y="429" width="800" height="9" fill="rgba(40,40,160,0.28)"/>
<rect x="663" y="429" width="800" height="1" fill="rgba(40,40,160,0.05)"/>
<rect x="663" y="437" width="800" height="1" fill="rgba(40,40,160,0.05)"/>
<line x1="660" y1="433.5" x2="1462" y2="433.5" stroke="#0b2a9e" stroke-width="1.2" stroke-dasharray="1.2 1.8"/>
<line x1="10" y1="561.5" x2="1462" y2="561.5" stroke="#0b2a9e" stroke-width="1.2" stroke-dasharray="1.2 1.8"/>
<polygon points="1178.3,502.0 1421.5,434.5 1421.5,472.5 1178.3,540.0" fill="rgba(60,190,50,0.13)"/>
<line x1="1178.3" y1="502.0" x2="1421.5" y2="434.5" stroke="#22b422" stroke-width="1.4"/>
<line x1="1178.3" y1="540.0" x2="1421.5" y2="472.5" stroke="#22b422" stroke-width="1.4"/>
<line x1="1406" y1="444.5" x2="1421" y2="477" stroke="#8a8a8a" stroke-width="3" stroke-dasharray="3 2.5"/>
<polygon points="1416.3,484.1 1429.9,478.3 1428.5,494" fill="#8a8a8a"/>
<circle cx="1396.5" cy="571.2" r="9.6" fill="#fff" stroke="#9c27b0" stroke-width="1.4"/>
<path d="M1399.6,565.7 L1400.6,566.5 L1396.2,570.6 H1400.9 V572.1 L1393.6,577.3 L1392.7,576.5 L1396.9,572.4 H1391.9 V571 Z" fill="#9c27b0"/>
</g>
<rect x="1462" y="2" width="1" height="781" fill="#e0e3eb"/>
<rect x="11" y="584" width="1548" height="1" fill="#e0e3eb"/>
<rect x="11" y="740" width="1548" height="1" fill="#e0e3eb"/>
<text x="1472.2" y="25.8" font-size="19.2" fill="#131722" font-weight="normal" text-anchor="start" textLength="31.8" lengthAdjust="spacingAndGlyphs">JPY</text>
<g clip-path="url(#cg)">
<text x="1476.8" y="35.9" font-size="18.5" fill="#bcbfc6" font-weight="normal" text-anchor="start" textLength="67.9" lengthAdjust="spacingAndGlyphs">148.000</text>
</g>
<text x="1476.8" y="92.6" font-size="18.5" fill="#131722" font-weight="normal" text-anchor="start" textLength="67.9" lengthAdjust="spacingAndGlyphs">146.000</text>
<text x="1476.8" y="151.8" font-size="18.5" fill="#131722" font-weight="normal" text-anchor="start" textLength="67.9" lengthAdjust="spacingAndGlyphs">144.000</text>
<text x="1476.8" y="211.2" font-size="18.5" fill="#131722" font-weight="normal" text-anchor="start" textLength="67.9" lengthAdjust="spacingAndGlyphs">142.000</text>
<text x="1476.8" y="270.7" font-size="18.5" fill="#131722" font-weight="normal" text-anchor="start" textLength="67.9" lengthAdjust="spacingAndGlyphs">140.000</text>
<text x="1476.8" y="331.9" font-size="18.5" fill="#131722" font-weight="normal" text-anchor="start" textLength="67.9" lengthAdjust="spacingAndGlyphs">138.000</text>
<text x="1476.8" y="393.5" font-size="18.5" fill="#131722" font-weight="normal" text-anchor="start" textLength="67.9" lengthAdjust="spacingAndGlyphs">136.000</text>
<text x="1476.8" y="519.0" font-size="18.5" fill="#131722" font-weight="normal" text-anchor="start" textLength="67.9" lengthAdjust="spacingAndGlyphs">132.000</text>
<rect x="1462" y="430" width="97" height="29" fill="#fff"/>
<text x="1477.7" y="451.8" font-size="18.5" fill="#131722" font-weight="normal" text-anchor="start" textLength="68.0" lengthAdjust="spacingAndGlyphs">134.177</text>
<path d="M1462,401 H1554 Q1556,401 1556,403 V428 Q1556,430 1554,430 H1462 Z" fill="#0b31a1"/>
<text x="1477.3" y="423.2" font-size="18.5" fill="#fff" font-weight="bold" text-anchor="start" textLength="68.7" lengthAdjust="spacingAndGlyphs">134.500</text>
<path d="M1462,547 H1554 Q1556,547 1556,549 V574 Q1556,576 1554,576 H1462 Z" fill="#0b31a1"/>
<text x="1477.0" y="569.0" font-size="18.5" fill="#fff" font-weight="bold" text-anchor="start" textLength="69.4" lengthAdjust="spacingAndGlyphs">130.500</text>
<text x="1475.6" y="626.0" font-size="18.5" fill="#131722" font-weight="normal" text-anchor="start" textLength="48.3" lengthAdjust="spacingAndGlyphs">60.00</text>
<text x="1475.6" y="679.7" font-size="18.5" fill="#131722" font-weight="normal" text-anchor="start" textLength="48.3" lengthAdjust="spacingAndGlyphs">40.00</text>
<text x="1475.6" y="732.6" font-size="18.5" fill="#131722" font-weight="normal" text-anchor="start" textLength="48.3" lengthAdjust="spacingAndGlyphs">20.00</text>
<g clip-path="url(#ct)">
<text x="170.7" y="766.8" font-size="18.5" fill="#131722" font-weight="normal" text-anchor="start" textLength="19.4" lengthAdjust="spacingAndGlyphs">14</text>
<text x="357" y="766.8" font-size="18.5" fill="#131722" font-weight="normal" text-anchor="start" textLength="18.3" lengthAdjust="spacingAndGlyphs">21</text>
<text x="506.7" y="766.8" font-size="18.5" fill="#131722" font-weight="normal" text-anchor="start" textLength="20.1" lengthAdjust="spacingAndGlyphs">25</text>
<text x="650.5" y="766.8" font-size="18.5" fill="#131722" font-weight="bold" text-anchor="start" textLength="32.8" lengthAdjust="spacingAndGlyphs">Dec</text>
<text x="774.3" y="766.8" font-size="18.5" fill="#131722" font-weight="normal" text-anchor="start" textLength="46.7" lengthAdjust="spacingAndGlyphs">14:00</text>
<text x="918.9" y="766.8" font-size="18.5" fill="#131722" font-weight="normal" text-anchor="start" textLength="19.2" lengthAdjust="spacingAndGlyphs">12</text>
<text x="1106" y="766.8" font-size="18.5" fill="#131722" font-weight="normal" text-anchor="start" textLength="19" lengthAdjust="spacingAndGlyphs">19</text>
<text x="1292.9" y="766.8" font-size="18.5" fill="#131722" font-weight="normal" text-anchor="start" textLength="20.0" lengthAdjust="spacingAndGlyphs">26</text>
<text x="1442.8" y="766.8" font-size="18.5" fill="#131722" font-weight="normal" text-anchor="start" textLength="19.7" lengthAdjust="spacingAndGlyphs">30</text>
</g>
<text x="18.3" y="603.9" font-size="12.5" fill="#2a2e39" font-weight="normal" text-anchor="start" textLength="139.5" lengthAdjust="spacingAndGlyphs">RSI (14, close, SMA, 14, 2)</text>
<text x="166" y="603.9" font-size="12.5" fill="#2448b0" font-weight="normal" text-anchor="start" textLength="28.7" lengthAdjust="spacingAndGlyphs">63.87</text>
<text x="15" y="30" font-size="22.5" fill="#000" font-weight="bold" text-anchor="start" textLength="255.7" lengthAdjust="spacingAndGlyphs">USD/JPY 4-HOUR CHART</text>
<text x="321.2" y="147.6" font-size="19.8" fill="#8f00ff" font-weight="bold" text-anchor="start" textLength="129.4" lengthAdjust="spacingAndGlyphs">100-DAY EMA</text>
<path d="M1185.8,21 H1216.4 V29.9 H1196.6 V36.7 H1214.4 V45.2 H1196.6 V58.9 H1185.8 Z" fill="#093a4f"/>
<ellipse cx="1239.15" cy="39.85" rx="19.05" ry="19.85" fill="#10b55a"/>
<ellipse cx="1239" cy="40.2" rx="8.25" ry="14.9" fill="#fff" transform="rotate(4 1239 40.2)"/>
<path d="M1241.3,34.9 H1264 L1262,39 H1241.3 Z M1240,41.5 H1262.8 L1260.8,46 H1240 Z" fill="#10b55a"/>
<path d="M1267.9,21 H1287 Q1301.7,21 1301.7,33.8 Q1301.7,42.8 1294,45.8 L1302.3,58.9 H1290.2 L1283,47.2 H1278.2 V58.9 H1267.9 Z M1278.2,29.9 V39 H1286 Q1290.9,39 1290.9,34.45 Q1290.9,29.9 1286,29.9 Z" fill="#093a4f" fill-rule="evenodd"/>
<path d="M1307.1,21.1 H1337.7 V29.8 H1317.4 V35.9 H1335.7 V43.5 H1317.4 V50.2 H1337.9 V58.9 H1307.1 Z" fill="#093a4f"/>
<path d="M1341.8,21.1 H1354.5 L1360.6,31.3 L1366.8,21.1 H1378.7 L1366.8,39.8 L1379,58.9 H1366.8 L1360.6,48.1 L1353.5,58.9 H1341.8 L1353.8,40 Z" fill="#093a4f"/>
<circle cx="1385.6" cy="45.8" r="2.4" fill="#093a4f"/>
<text x="1389.6" y="48.3" font-size="28.5" fill="#093a4f" font-weight="bold" text-anchor="start" textLength="60.5" lengthAdjust="spacingAndGlyphs" stroke="#093a4f" stroke-width="0.6">com</text>
</svg></body></html>
